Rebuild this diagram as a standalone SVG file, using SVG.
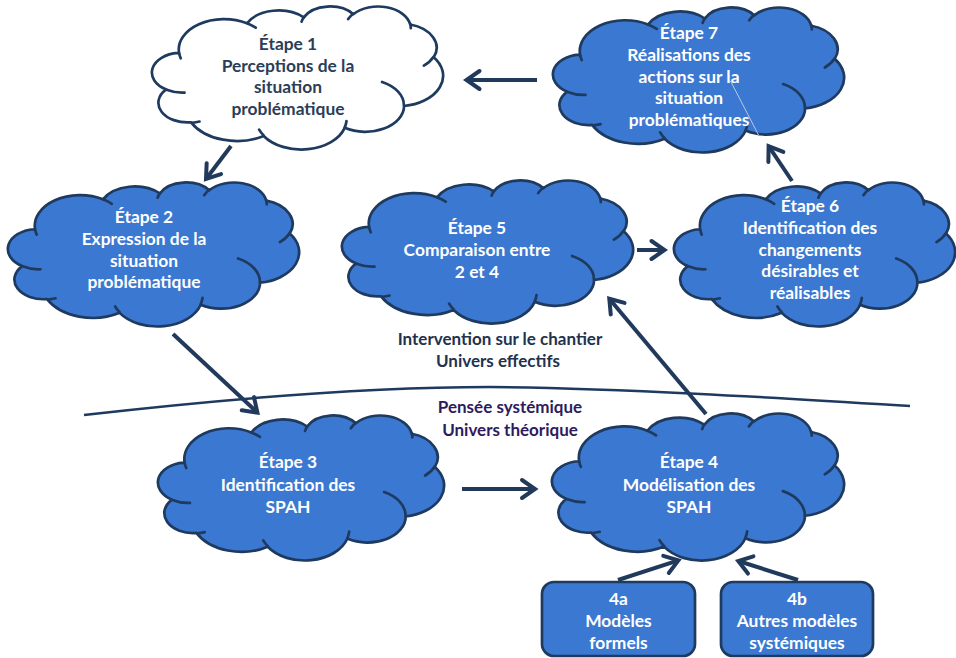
<svg xmlns="http://www.w3.org/2000/svg" xmlns:xlink="http://www.w3.org/1999/xlink" width="956" height="658" viewBox="0 0 956 658">
  <style>
    .co { stroke: #1f3a5f; stroke-width: 2.7; vector-effect: non-scaling-stroke; stroke-linejoin: round; }
    .ci { fill: none; stroke: #1f3a5f; stroke-width: 2.7; vector-effect: non-scaling-stroke; stroke-linecap: round; }
    .blue { fill: #3b78d1; }
    .white { fill: #ffffff; }
    .box { fill: #3b78d1; stroke: #1f3a5f; stroke-width: 2.7; }
    .t { font-family: Lato, "Liberation Sans", sans-serif; font-weight: bold; font-size: 17.4px; text-anchor: middle; }
    .tw { fill: #ffffff; }
    .td { fill: #2c3d58; }
    .lab1 { font-family: Lato, "Liberation Sans", sans-serif; font-weight: bold; font-size: 17px; text-anchor: middle; fill: #22324f; }
    .lab2 { font-family: Lato, "Liberation Sans", sans-serif; font-weight: bold; font-size: 17px; text-anchor: middle; fill: #2d1b5e; }
    .conn { fill: none; stroke: #213a5c; stroke-width: 4; marker-end: url(#ah); }
  </style>
  <defs>
    <marker id="ah" viewBox="-20 -15 30 30" refX="0" refY="0" markerWidth="30" markerHeight="30" markerUnits="userSpaceOnUse" orient="auto">
      <path d="M-13,-9 L0,0 L-13,9" fill="none" stroke="#213a5c" stroke-width="4" stroke-linecap="round"/>
    </marker>
    <!-- cloud outline in a 432 x 432 frame, plus its inner creases -->
    <g id="cloud">
      <path class="co" d="M39 143.7A67.53 91.9 0 0 1 140.05 52.02A53.33 72.67 0 0 1 224.56 34.32A43.65 59.45 0 0 1 298.33 24.81A48.57 65.95 0 0 1 383.18 55.76A53.33 72.73 0 0 1 418.19 154.6A67.75 92.2 0 0 1 374.05 302.03A57.85 78.67 0 0 1 285.56 368.13A67.52 92.15 0 0 1 164.81 392.64A77.2 105.43 0 0 1 56.73 351.4A43.6 59.18 0 0 1 19.81 252.18A43.45 59.45 0 0 1 37.31 141.75Z"/>
      <path class="ci" d="M46.93 261.77A43.45 59.45 0 0 1 21.6 253.8M69.28 348.99A43.6 59.18 0 0 1 58.2 352.81M164.78 390.9A67.52 92.15 0 0 1 158.1 373.5M288.27 347.51A67.52 92.15 0 0 1 285.6 366.6M341.29 229.54A57.85 78.67 0 0 1 373.8 300.9M417.98 153.54A53.33 72.73 0 0 1 403.5 180.3M383.24 54.26A48.57 65.95 0 0 1 384 66.9M290.78 39.52A48.57 65.95 0 0 1 298.2 23.4M221.41 47.2A43.65 59.45 0 0 1 225 33.3M140 51.92A67.53 91.9 0 0 1 153 65.4M41.27 157.89A67.53 91.9 0 0 1 39 143.7"/>
    </g>
  </defs>

  <rect width="956" height="658" fill="#ffffff"/>

  <!-- boundary between the two universes -->
  <path d="M84 415 C250 396 380 387 490 387 C620 388 780 398 910 406" fill="none" stroke="#1f3a5f" stroke-width="2.5"/>

  <g id="labels">
    <text class="lab1" x="500" y="345">Intervention sur le chantier</text>
    <text class="lab1" x="498" y="367">Univers effectifs</text>
    <text class="lab2" x="510" y="413">Pensée systémique</text>
    <text class="lab2" x="510" y="436">Univers théorique</text>
  </g>

  <g id="step1">
    <use href="#cloud" class="white" transform="translate(153 6) scale(0.6713 0.331)"/>
    <text class="t td" x="288" y="50">Étape 1</text>
    <text class="t td" x="288" y="71.7">Perceptions de la</text>
    <text class="t td" x="288" y="93.3">situation</text>
    <text class="t td" x="288" y="115">problématique</text>
  </g>

  <g id="step7">
    <use href="#cloud" class="blue" transform="translate(554 7) scale(0.6713 0.3356)"/>
    <text class="t tw" x="689" y="39">Étape 7</text>
    <text class="t tw" x="689" y="61">Réalisations des</text>
    <text class="t tw" x="689" y="82.7">actions sur la</text>
    <text class="t tw" x="689" y="104.3">situation</text>
    <text class="t tw" x="689" y="126">problématiques</text>
    <line x1="730.5" y1="81" x2="758.5" y2="135" stroke="#b9c9e2" stroke-width="1"/>
  </g>

  <g id="step2">
    <use href="#cloud" class="blue" transform="translate(9 182) scale(0.6713 0.3333)"/>
    <text class="t tw" x="144" y="223.3">Étape 2</text>
    <text class="t tw" x="144" y="245">Expression de la</text>
    <text class="t tw" x="144" y="266.7">situation</text>
    <text class="t tw" x="144" y="288.3">problématique</text>
  </g>

  <g id="step5">
    <use href="#cloud" class="blue" transform="translate(343 180) scale(0.6713 0.331)"/>
    <text class="t tw" x="477" y="234">Étape 5</text>
    <text class="t tw" x="477" y="256">Comparaison entre</text>
    <text class="t tw" x="477" y="278.3">2 et 4</text>
  </g>

  <g id="step6">
    <use href="#cloud" class="blue" transform="translate(675 182) scale(0.6481 0.3333)"/>
    <text class="t tw" x="810" y="212.3">Étape 6</text>
    <text class="t tw" x="810" y="234">Identification des</text>
    <text class="t tw" x="810" y="255.7">changements</text>
    <text class="t tw" x="810" y="277.4">désirables et</text>
    <text class="t tw" x="810" y="299">réalisables</text>
  </g>

  <g id="step3">
    <use href="#cloud" class="blue" transform="translate(159 415) scale(0.6597 0.3356)"/>
    <text class="t tw" x="288" y="468.3">Étape 3</text>
    <text class="t tw" x="288" y="490.7">Identification des</text>
    <text class="t tw" x="288" y="512.7">SPAH</text>
  </g>

  <g id="step4">
    <use href="#cloud" class="blue" transform="translate(553 413) scale(0.6736 0.3403)"/>
    <text class="t tw" x="689" y="468.3">Étape 4</text>
    <text class="t tw" x="689" y="490.7">Modélisation des</text>
    <text class="t tw" x="689" y="512.7">SPAH</text>
  </g>

  <g id="step4a">
    <rect class="box" x="542" y="582" width="153" height="74" rx="12"/>
    <text class="t tw" x="618.5" y="605">4a</text>
    <text class="t tw" x="618.5" y="627.3">Modèles</text>
    <text class="t tw" x="618.5" y="649.3">formels</text>
  </g>

  <g id="step4b">
    <rect class="box" x="721" y="582" width="152" height="74" rx="12"/>
    <text class="t tw" x="797" y="605">4b</text>
    <text class="t tw" x="797" y="627.3">Autres modèles</text>
    <text class="t tw" x="797" y="649.3">systémiques</text>
  </g>

  <g id="connectors">
    <line class="conn" x1="537" y1="80" x2="466.5" y2="80"/>
    <line class="conn" x1="231" y1="146" x2="206" y2="179"/>
    <line class="conn" x1="173" y1="334" x2="257.4" y2="412.6"/>
    <line class="conn" x1="462" y1="489" x2="535" y2="489"/>
    <line class="conn" x1="706" y1="414" x2="609.3" y2="298.7"/>
    <line class="conn" x1="637" y1="250" x2="664.5" y2="250"/>
    <line class="conn" x1="792" y1="181" x2="768.6" y2="146.2"/>
    <line class="conn" x1="618" y1="580" x2="678.4" y2="560.4"/>
    <line class="conn" x1="798" y1="580" x2="738.3" y2="561"/>
  </g>
</svg>
